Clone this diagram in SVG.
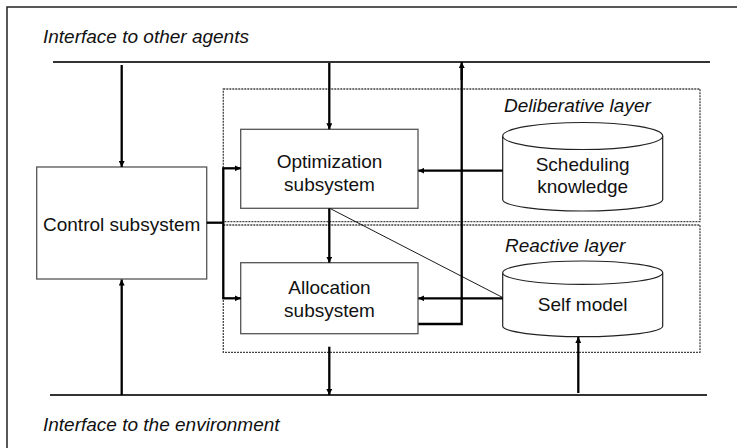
<svg xmlns="http://www.w3.org/2000/svg" width="737" height="448" viewBox="0 0 737 448">
  <style>
    .frame { fill: none; stroke: #222; stroke-width: 1.5; }
    .bus { fill: none; stroke: #333; stroke-width: 2; }
    .box { fill: #fff; stroke: #555; stroke-width: 1.3; }
    .layer { fill: none; stroke: #444; stroke-width: 1.3; stroke-dasharray: 2 1; }
    .cyl { fill: #fff; stroke: #222; stroke-width: 1.2; }
    .wire { fill: none; stroke: #000; stroke-width: 2.3; }
    .thin { fill: none; stroke: #000; stroke-width: 0.9; }
    .lbl { font-family: "Liberation Sans", Arial, sans-serif; font-size: 19px; fill: #111; text-anchor: middle; }
    .it { font-family: "Liberation Sans", Arial, sans-serif; font-size: 19px; font-style: italic; fill: #111; }
  </style>
  <defs>
    <marker id="arrow" viewBox="0 0 10 10" refX="10" refY="5" markerWidth="6" markerHeight="6" markerUnits="userSpaceOnUse" orient="auto">
      <path d="M0,0 L10,5 L0,10 z" fill="#000"/>
    </marker>
  </defs>

  <rect width="737" height="448" fill="#fff"/>

  <!-- outer frame -->
  <path class="frame" d="M7,448 V7 H737"/>

  <!-- interface buses -->
  <g id="bus-agents">
    <line class="bus" x1="53" y1="62" x2="710" y2="62"/>
    <text class="it" x="43" y="43">Interface to other agents</text>
  </g>
  <g id="bus-environment">
    <line class="bus" x1="50" y1="395" x2="707" y2="395"/>
    <text class="it" x="43" y="431">Interface to the environment</text>
  </g>

  <!-- layers -->
  <g id="deliberative-layer">
    <rect class="layer" x="223.3" y="89" width="476.7" height="132.7"/>
    <text class="it" x="504" y="112">Deliberative layer</text>
  </g>
  <g id="reactive-layer">
    <rect class="layer" x="223.3" y="225" width="476.7" height="127.3"/>
    <text class="it" x="505" y="252">Reactive layer</text>
  </g>

  <!-- nodes -->
  <g id="control">
    <rect class="box" x="36.7" y="167" width="170" height="112"/>
    <text class="lbl" x="121.7" y="231">Control subsystem</text>
  </g>
  <g id="optimization">
    <rect class="box" x="240.7" y="129.3" width="177.3" height="79"/>
    <text class="lbl" x="329.5" y="168">Optimization</text>
    <text class="lbl" x="329.5" y="191">subsystem</text>
  </g>
  <g id="allocation">
    <rect class="box" x="240.7" y="262.7" width="177.3" height="71"/>
    <text class="lbl" x="329.5" y="294">Allocation</text>
    <text class="lbl" x="329.5" y="317">subsystem</text>
  </g>
  <g id="scheduling-knowledge">
    <path class="cyl" d="M502.7,136 V199.5 A80,11.5 0 0 0 662.7,199.5 V136"/>
    <ellipse class="cyl" cx="582.7" cy="136" rx="80" ry="13.5"/>
    <text class="lbl" x="582.7" y="171">Scheduling</text>
    <text class="lbl" x="582.7" y="193">knowledge</text>
  </g>
  <g id="self-model">
    <path class="cyl" d="M502.7,272.7 V326 A80,10.7 0 0 0 662.7,326 V272.7"/>
    <ellipse class="cyl" cx="582.7" cy="272.7" rx="80" ry="11.7"/>
    <text class="lbl" x="582.7" y="311">Self model</text>
  </g>

  <!-- connectors -->
  <g id="connectors">
    <!-- agents bus to control and optimization -->
    <line class="wire" x1="121.7" y1="65" x2="121.7" y2="167" marker-end="url(#arrow)"/>
    <line class="wire" x1="329.3" y1="63" x2="329.3" y2="129.3" marker-end="url(#arrow)"/>
    <!-- environment bus up to control -->
    <line class="wire" x1="121.7" y1="395" x2="121.7" y2="279.5" marker-end="url(#arrow)"/>
    <!-- control fan-out -->
    <path class="wire" d="M206.7,222.7 H223.3"/>
    <path class="wire" d="M223.3,298.3 V168.3"/>
    <line class="wire" x1="222.2" y1="168.3" x2="240.7" y2="168.3" marker-end="url(#arrow)"/>
    <line class="wire" x1="222.2" y1="298.3" x2="240.7" y2="298.3" marker-end="url(#arrow)"/>
    <!-- optimization to allocation -->
    <line class="wire" x1="329.3" y1="208.3" x2="329.3" y2="262.7" marker-end="url(#arrow)"/>
    <!-- allocation down to environment bus -->
    <line class="wire" x1="329.3" y1="346.7" x2="329.3" y2="395" marker-end="url(#arrow)"/>
    <!-- knowledge stores feeding the subsystems -->
    <line class="wire" x1="502.7" y1="170.7" x2="418.3" y2="170.7" marker-end="url(#arrow)"/>
    <line class="wire" x1="502.7" y1="298.3" x2="418.3" y2="298.3" marker-end="url(#arrow)"/>
    <!-- allocation result up to agents bus -->
    <path class="wire" d="M418.3,324 H461.7 V68"/>
    <line class="wire" x1="461.7" y1="80" x2="461.7" y2="62" marker-end="url(#arrow)"/>
    <!-- environment bus up to self model -->
    <line class="wire" x1="578.3" y1="393" x2="578.3" y2="337" marker-end="url(#arrow)"/>
    <!-- optimization link to self model -->
    <line class="thin" x1="330.7" y1="208.8" x2="502.7" y2="297.5"/>
  </g>
</svg>
